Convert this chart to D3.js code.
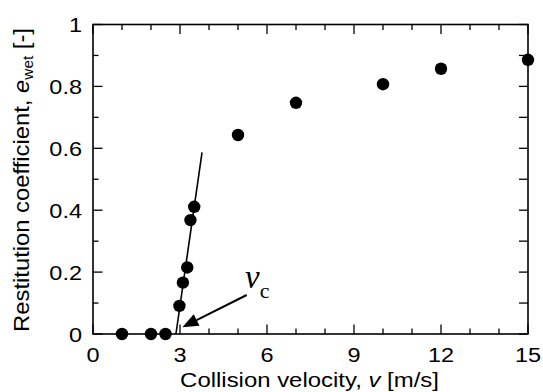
<!DOCTYPE html>
<html>
<head>
<meta charset="UTF-8" />
<script src="https://cdn.jsdelivr.net/npm/d3@7"></script>
<style>
  body { margin: 0; background: #fff; }
  text { font-family: "Liberation Sans", Arial, sans-serif; fill: #000; }
</style>
</head>
<body>
<script>
// measured data
var velocity = [1.0, 2.0, 2.5, 2.98, 3.1, 3.25, 3.36, 3.49, 5.0, 7.0, 10.0, 12.0, 15.0];
var restitution = [0, 0, 0, 0.091, 0.166, 0.215, 0.368, 0.411, 0.643, 0.747, 0.807, 0.857, 0.886];

// fitted line through the rising points
var fitV = [2.86, 3.76];
var fitE = [0, 0.587];

// arrow pointing to critical velocity
var arrowV = [5.3, 3.08];
var arrowE = [0.126, 0.022];
var labelV = 5.31, labelE = 0.149;

var xTicks = [0, 3, 6, 9, 12, 15];
var yTicks = [0, 0.2, 0.4, 0.6, 0.8, 1];
var xMinor = d3.range(0, 16, 1);
var yMinor = d3.range(0, 1.01, 0.1);

var W = 543, H = 392;
var pLeft = 93, pTop = 24.5, pRight = 528, pBottom = 334;
var stretch = 1.12; // text in the original is a bit wider than tall

var svg = d3.select("body").append("svg")
  .attr("width", W).attr("height", H);

var x = d3.scaleLinear().domain([0, 15]).range([pLeft, pRight]);
var y = d3.scaleLinear().domain([0, 1]).range([pBottom, pTop]);

function isMajor(v, list) {
  return list.some(function (t) { return Math.abs(t - v) < 1e-6; });
}

// ticks (inward)
var tk = svg.append("g").attr("stroke", "#000").attr("stroke-width", 1.3);
xMinor.forEach(function (v) {
  var len = isMajor(v, xTicks) ? 9.5 : 5.5;
  tk.append("line").attr("x1", x(v)).attr("x2", x(v)).attr("y1", pBottom).attr("y2", pBottom - len);
  tk.append("line").attr("x1", x(v)).attr("x2", x(v)).attr("y1", pTop).attr("y2", pTop + len);
});
yMinor.forEach(function (v) {
  var len = isMajor(v, yTicks) ? 9.5 : 5.5;
  tk.append("line").attr("x1", pLeft).attr("x2", pLeft + len).attr("y1", y(v)).attr("y2", y(v));
  tk.append("line").attr("x1", pRight).attr("x2", pRight - 9).attr("y1", y(v)).attr("y2", y(v));
});

// frame
svg.append("rect")
  .attr("x", pLeft).attr("y", pTop)
  .attr("width", pRight - pLeft).attr("height", pBottom - pTop)
  .attr("fill", "none").attr("stroke", "#000").attr("stroke-width", 1.6);

// tick labels
svg.selectAll(".xl").data(xTicks).enter().append("text")
  .attr("transform", function (d) { return "translate(" + x(d) + ",362) scale(" + stretch + ",1)"; })
  .attr("text-anchor", "middle")
  .attr("font-size", 21)
  .text(function (d) { return d; });

svg.selectAll(".yl").data(yTicks).enter().append("text")
  .attr("transform", function (d) { return "translate(82," + y(d) + ") scale(" + stretch + ",1)"; })
  .attr("dy", "0.36em")
  .attr("text-anchor", "end")
  .attr("font-size", 21)
  .text(function (d) { return d; });

// axis titles, stretched along the baseline to the width seen in the original
function fitTo(t, target, base) {
  var w = t.node().getBBox().width;
  t.attr("transform", base + " scale(" + (target / w) + ",1)");
}

var xt = svg.append("text")
  .attr("text-anchor", "middle")
  .attr("font-size", 21);
xt.append("tspan").text("Collision velocity,  ");
xt.append("tspan").attr("font-style", "italic").text("v");
xt.append("tspan").text(" [m/s]");
fitTo(xt, 259, "translate(" + 309.5 + ",387)");

var yt = svg.append("text")
  .attr("text-anchor", "middle")
  .attr("font-size", 22.5);
yt.append("tspan").text("Restitution coefficient,  ");
yt.append("tspan").attr("font-style", "italic").text("e");
yt.append("tspan").attr("font-size", 14.5).attr("dy", 4).text("wet");
yt.append("tspan").attr("dy", -4).text(" [-]");
fitTo(yt, 304, "translate(29,180) rotate(-90)");

// fit line
svg.append("line")
  .attr("x1", x(fitV[0])).attr("y1", y(fitE[0]))
  .attr("x2", x(fitV[1])).attr("y2", y(fitE[1]))
  .attr("stroke", "#000").attr("stroke-width", 1.6);

// data points
svg.selectAll("circle").data(velocity).enter().append("circle")
  .attr("cx", function (d) { return x(d); })
  .attr("cy", function (d, i) { return y(restitution[i]); })
  .attr("r", 6.2)
  .attr("fill", "#000");

// arrow
var ax0 = x(arrowV[0]), ay0 = y(arrowE[0]);
var ax1 = x(arrowV[1]), ay1 = y(arrowE[1]);
var ang = Math.atan2(ay1 - ay0, ax1 - ax0);
var hl = 16, hw = 6.5;
var bx = ax1 - hl * Math.cos(ang), by = ay1 - hl * Math.sin(ang);
svg.append("line")
  .attr("x1", ax0).attr("y1", ay0).attr("x2", bx).attr("y2", by)
  .attr("stroke", "#000").attr("stroke-width", 2);
svg.append("polygon")
  .attr("points", [
    [ax1, ay1],
    [bx + hw * Math.sin(ang), by - hw * Math.cos(ang)],
    [bx - hw * Math.sin(ang), by + hw * Math.cos(ang)]
  ].map(function (p) { return p.join(","); }).join(" "))
  .attr("fill", "#000");

// v_c label
var vc = svg.append("text")
  .attr("x", x(labelV) - 2)
  .attr("y", y(labelE))
  .style("font-family", "'Liberation Serif', 'Times New Roman', serif");
vc.append("tspan").attr("font-size", 33).attr("font-style", "italic").text("v");
vc.append("tspan").attr("font-size", 22).attr("dy", 10).text("c");
</script>
</body>
</html>
